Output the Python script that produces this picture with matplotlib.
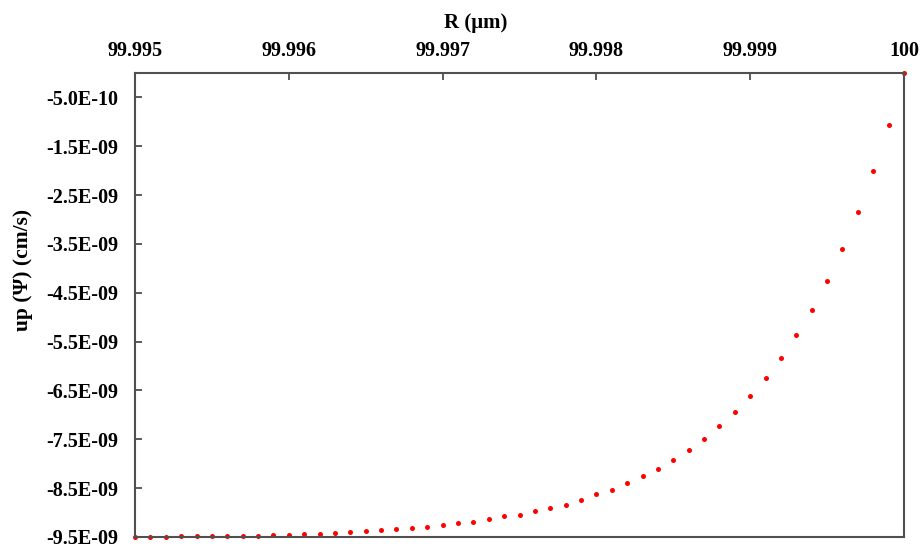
import matplotlib
matplotlib.use("Agg")
import matplotlib.pyplot as plt
from matplotlib.ticker import FuncFormatter

# radius (um), one point every 0.0001 um
r_um = [99.9950, 99.9951, 99.9952, 99.9953, 99.9954, 99.9955, 99.9956, 99.9957,
        99.9958, 99.9959, 99.9960, 99.9961, 99.9962, 99.9963, 99.9964, 99.9965,
        99.9966, 99.9967, 99.9968, 99.9969, 99.9970, 99.9971, 99.9972, 99.9973,
        99.9974, 99.9975, 99.9976, 99.9977, 99.9978, 99.9979, 99.9980, 99.9981,
        99.9982, 99.9983, 99.9984, 99.9985, 99.9986, 99.9987, 99.9988, 99.9989,
        99.9990, 99.9991, 99.9992, 99.9993, 99.9994, 99.9995, 99.9996, 99.9997,
        99.9998, 99.9999, 100.0000]

# up(Psi) in units of 1e-9 cm/s
up_e9 = [-9.50, -9.50, -9.50, -9.49, -9.49, -9.49, -9.47, -9.47, -9.47, -9.46,
         -9.46, -9.44, -9.43, -9.41, -9.40, -9.385, -9.36, -9.34, -9.32, -9.29,
         -9.25, -9.22, -9.19, -9.14, -9.08, -9.04, -8.97, -8.90, -8.84, -8.74,
         -8.63, -8.53, -8.40, -8.26, -8.10, -7.92, -7.71, -7.50, -7.23, -6.95,
         -6.61, -6.25, -5.84, -5.37, -4.85, -4.26, -3.60, -2.85, -2.01, -1.07,
         0.0]

x_ticks = [99.995, 99.996, 99.997, 99.998, 99.999, 100.0]
x_tick_labels = ["99.995", "99.996", "99.997", "99.998", "99.999", "100"]
y_ticks = [-5.0e-10, -1.5e-09, -2.5e-09, -3.5e-09, -4.5e-09,
           -5.5e-09, -6.5e-09, -7.5e-09, -8.5e-09, -9.5e-09]

up = [v * 1e-9 for v in up_e9]

plt.rcParams['font.family'] = ['Liberation Serif', 'DejaVu Serif']
plt.rcParams['font.weight'] = 'bold'

fig = plt.figure(figsize=(9.22, 5.48), dpi=100)
ax = fig.add_axes([0.1464, 0.0201, 0.8341, 0.8467])

ax.plot(r_um, up, linestyle='none', marker='o', markersize=3.6,
        color='#ff0000', markeredgewidth=0, clip_on=False)

ax.set_xlim(99.995, 100.0)
ax.set_ylim(-9.5e-09, 0)

ax.xaxis.tick_top()
ax.xaxis.set_label_position('top')
ax.set_xticks(x_ticks)
ax.set_xticklabels(x_tick_labels)
ax.set_yticks(y_ticks)
ax.yaxis.set_major_formatter(FuncFormatter(lambda v, p: f"{v:.1E}"))

ax.tick_params(axis='both', direction='in', length=5, width=1.2,
               color='#404040', labelsize=14.5)
ax.tick_params(axis='x', pad=8.5)
ax.tick_params(axis='y', pad=12)
for lab in ax.get_xticklabels() + ax.get_yticklabels():
    lab.set_fontweight('bold')

for s in ax.spines.values():
    s.set_color('#505050')
    s.set_linewidth(1.5)

ax.set_xlabel("R (μm)", fontsize=15, fontweight='bold')
ax.xaxis.set_label_coords(0.443, 1.097)
ax.set_ylabel("up (Ψ) (cm/s)", fontsize=15.5, fontweight='bold')
ax.yaxis.set_label_coords(-0.132, 0.575)

fig.savefig("out.png", dpi=100)
